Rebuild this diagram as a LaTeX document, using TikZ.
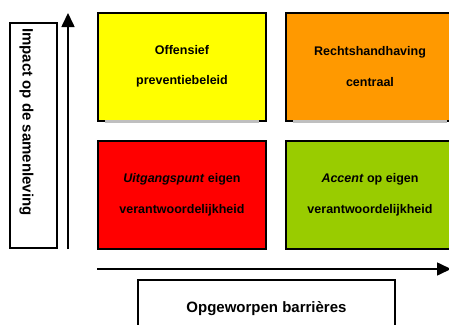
\documentclass[tikz,border=0pt]{standalone}
\usepackage{fontspec}
\setmainfont{Liberation Sans}
\usetikzlibrary{arrows.meta}
\definecolor{qyellow}{HTML}{FFFF00}
\definecolor{qorange}{HTML}{FF9900}
\definecolor{qred}{HTML}{FF0000}
\definecolor{qgreen}{HTML}{99CC00}
\begin{document}
\begin{tikzpicture}[x=1pt,y=-1pt,
  quad/.style={draw=black,line width=2pt,minimum width=168pt,minimum height=108pt,
    inner sep=0pt,align=center,font=\fontsize{12.5}{30.5}\selectfont\bfseries},
  axis/.style={line width=1.6pt,-{Triangle[length=14pt,width=13pt]}},
  frame/.style={draw=black,line width=1.8pt,fill=white,inner sep=0pt},
  axlabel/.style={font=\fontsize{15}{18}\selectfont\bfseries,inner sep=0pt},
  softedge/.style={draw=black!25,line width=2.2pt}]
\clip (0,0) rectangle (449,324);
\fill[white] (0,0) rectangle (449,324);

% quadrants
\node[quad,fill=qyellow] (q1) at (182,66.5) {Offensief\\preventiebeleid};
\node[quad,fill=qorange] (q2) at (370,66.5) {Rechtshandhaving\\centraal};
\node[quad,fill=qred] (q3) at (182,195) {\textit{Uitgangspunt} eigen\\verantwoordelijkheid};
\node[quad,fill=qgreen] (q4) at (370,195) {\textit{Accent} op eigen\\verantwoordelijkheid};
\draw[softedge] ([xshift=8pt]q1.south west) -- ([xshift=-8pt]q1.south east);
\draw[softedge] ([xshift=8pt]q2.south west) -- ([xshift=-8pt]q2.south east);

% vertical axis and label
\node[frame,minimum width=47pt,minimum height=225pt] (lbox) at (33.5,135.5) {};
\node[axlabel,rotate=-90,anchor=west] (ylab) at (26.5,28) {Impact op de samenleving};
\coordinate (vbot) at (68,249);
\coordinate (vtop) at (68,13);
\draw[axis] (vbot) -- (vtop);

% horizontal axis and label
\coordinate (hleft) at (97,269);
\coordinate (hright) at (451,269);
\draw[axis] (hleft) -- (hright);
\node[frame,minimum width=257pt,minimum height=60pt] (bbox) at (266.5,310) {};
\node[axlabel,anchor=base] (xlab) at (266.5,312.5) {Opgeworpen barrières};
\end{tikzpicture}
\end{document}
